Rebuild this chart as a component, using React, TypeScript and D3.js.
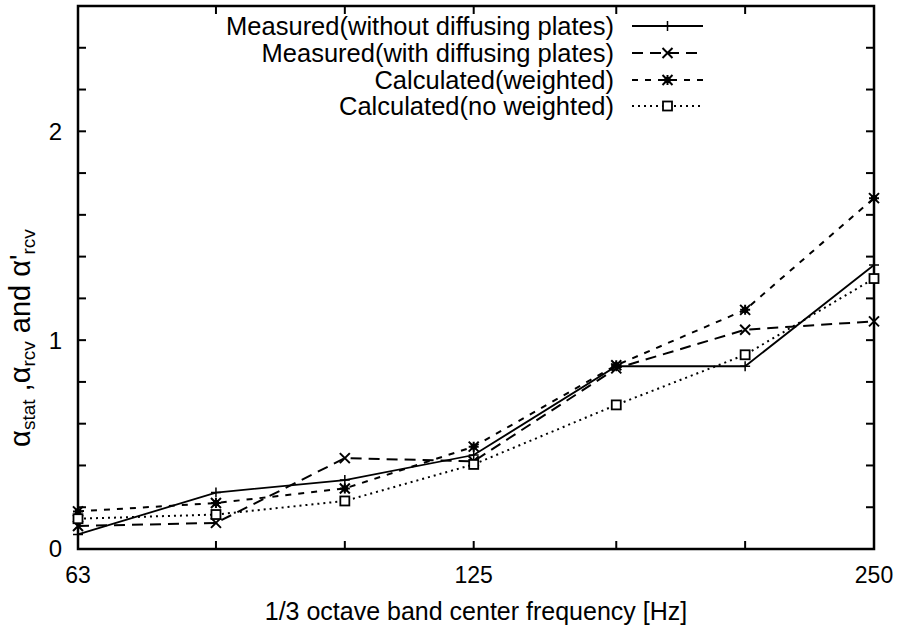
import React from "react";
import * as d3 from "d3";

const frequencies = [63, 80, 100, 125, 160, 200, 250];
const xTickLabels = ["63", "125", "250"];
const measuredWithout = [0.07, 0.27, 0.33, 0.45, 0.875, 0.875, 1.36];
const measuredWith = [0.11, 0.125, 0.435, 0.42, 0.865, 1.05, 1.09];
const calcWeighted = [0.18, 0.22, 0.29, 0.49, 0.88, 1.145, 1.68];
const calcNoWeighted = [0.145, 0.165, 0.23, 0.405, 0.69, 0.93, 1.295];
const yTicks = [0, 0.2, 0.4, 0.6, 0.8, 1, 1.2, 1.4, 1.6, 1.8, 2, 2.2, 2.4, 2.6];
const yTickLabels = [0, 1, 2];
const seriesNames = [
  "Measured(without diffusing plates)",
  "Measured(with diffusing plates)",
  "Calculated(weighted)",
  "Calculated(no weighted)",
];

const W = 899, H = 633;
const L = 78, R = 874, T = 6, B = 549;
const FONT = "'Liberation Sans', Arial, sans-serif";

type MarkerKind = "plus" | "cross" | "star" | "square";

function Marker({ kind, x, y }: { kind: MarkerKind; x: number; y: number }) {
  const s = 5;
  if (kind === "plus")
    return (
      <path d={`M${x - s},${y}H${x + s}M${x},${y - s}V${y + s}`} stroke="#000" strokeWidth={1.5} fill="none" />
    );
  if (kind === "cross")
    return (
      <path d={`M${x - s},${y - s}L${x + s},${y + s}M${x - s},${y + s}L${x + s},${y - s}`} stroke="#000" strokeWidth={2} fill="none" />
    );
  if (kind === "star")
    return (
      <g stroke="#000" strokeWidth={2} fill="none">
        <path d={`M${x - s},${y - s}L${x + s},${y + s}M${x - s},${y + s}L${x + s},${y - s}M${x - s},${y}H${x + s}M${x},${y - s}V${y + s}`} />
        <rect x={x - 3} y={y - 3} width={6} height={6} fill="#000" stroke="none" />
      </g>
    );
  return <rect x={x - 4.5} y={y - 4.5} width={9} height={9} fill="#fff" stroke="#000" strokeWidth={1.8} />;
}

export default function App() {
  const x = d3.scaleLog().domain([63, 250]).range([L, R]);
  const y = d3.scaleLinear().domain([0, 2.6]).range([B, T]);

  const series = [
    { name: seriesNames[0], values: measuredWithout, dash: "none", width: 1.8, marker: "plus" as MarkerKind },
    { name: seriesNames[1], values: measuredWith, dash: "11,7", width: 2, marker: "cross" as MarkerKind },
    { name: seriesNames[2], values: calcWeighted, dash: "6,7", width: 2, marker: "star" as MarkerKind },
    { name: seriesNames[3], values: calcNoWeighted, dash: "2,4", width: 2, marker: "square" as MarkerKind },
  ];

  const line = d3
    .line<number>()
    .x((_, i) => x(frequencies[i]))
    .y((d) => y(d));

  const tickLen = 8;
  const legendX0 = 632, legendX1 = 703, legendTextX = 614;
  const legendY = [26, 53, 80, 106];

  return (
    <svg width={W} height={H} style={{ position: "absolute", left: 0, top: 0, background: "#fff" }} fontFamily={FONT}>
      <rect x={0} y={0} width={W} height={H} fill="#fff" />
      {/* y ticks */}
      {yTicks.map((t) => (
        <g key={"yt" + t}>
          <line x1={L} x2={L + tickLen} y1={y(t)} y2={y(t)} stroke="#000" strokeWidth={2} />
          <line x1={R} x2={R - tickLen} y1={y(t)} y2={y(t)} stroke="#000" strokeWidth={2} />
        </g>
      ))}
      {/* x ticks */}
      {frequencies.map((f) => (
        <g key={"xt" + f}>
          <line x1={x(f)} x2={x(f)} y1={B} y2={B - tickLen} stroke="#000" strokeWidth={2} />
          <line x1={x(f)} x2={x(f)} y1={T} y2={T + tickLen} stroke="#000" strokeWidth={2} />
        </g>
      ))}
      {/* frame */}
      <rect x={L} y={T} width={R - L} height={B - T} fill="none" stroke="#000" strokeWidth={2.5} />
      {/* y tick labels */}
      {yTickLabels.map((t) => (
        <text key={"yl" + t} x={62} y={y(t)} dy="0.35em" textAnchor="end" fontSize={24}>
          {t}
        </text>
      ))}
      {/* x tick labels */}
      {xTickLabels.map((t) => (
        <text key={"xl" + t} x={x(+t)} y={583} textAnchor="middle" fontSize={23}>
          {t}
        </text>
      ))}
      {/* axis titles */}
      <text x={(L + R) / 2} y={620} textAnchor="middle" fontSize={25}>
        1/3 octave band center frequency [Hz]
      </text>
      <text transform="translate(30,338) rotate(-90)" textAnchor="middle" fontSize={29}>
        <tspan>α</tspan>
        <tspan fontSize={19} dy={5}>stat</tspan>
        <tspan dy={-5}> ,α</tspan>
        <tspan fontSize={19} dy={5}>rcv</tspan>
        <tspan dy={-5}> and α'</tspan>
        <tspan fontSize={19} dy={5}>rcv</tspan>
      </text>
      {/* series */}
      {series.map((s, si) => (
        <g key={"s" + si}>
          <path d={line(s.values) || ""} fill="none" stroke="#000" strokeWidth={s.width} strokeDasharray={s.dash} />
          {s.values.map((v, i) => (
            <Marker key={i} kind={s.marker} x={x(frequencies[i])} y={y(v)} />
          ))}
        </g>
      ))}
      {/* legend */}
      {series.map((s, si) => (
        <g key={"lg" + si}>
          <text x={legendTextX} y={legendY[si]} dy="0.35em" textAnchor="end" fontSize={25.5}>
            {s.name}
          </text>
          <line x1={legendX0} x2={legendX1} y1={legendY[si]} y2={legendY[si]} stroke="#000" strokeWidth={s.width} strokeDasharray={s.dash} />
          <Marker kind={s.marker} x={(legendX0 + legendX1) / 2} y={legendY[si]} />
        </g>
      ))}
    </svg>
  );
}
